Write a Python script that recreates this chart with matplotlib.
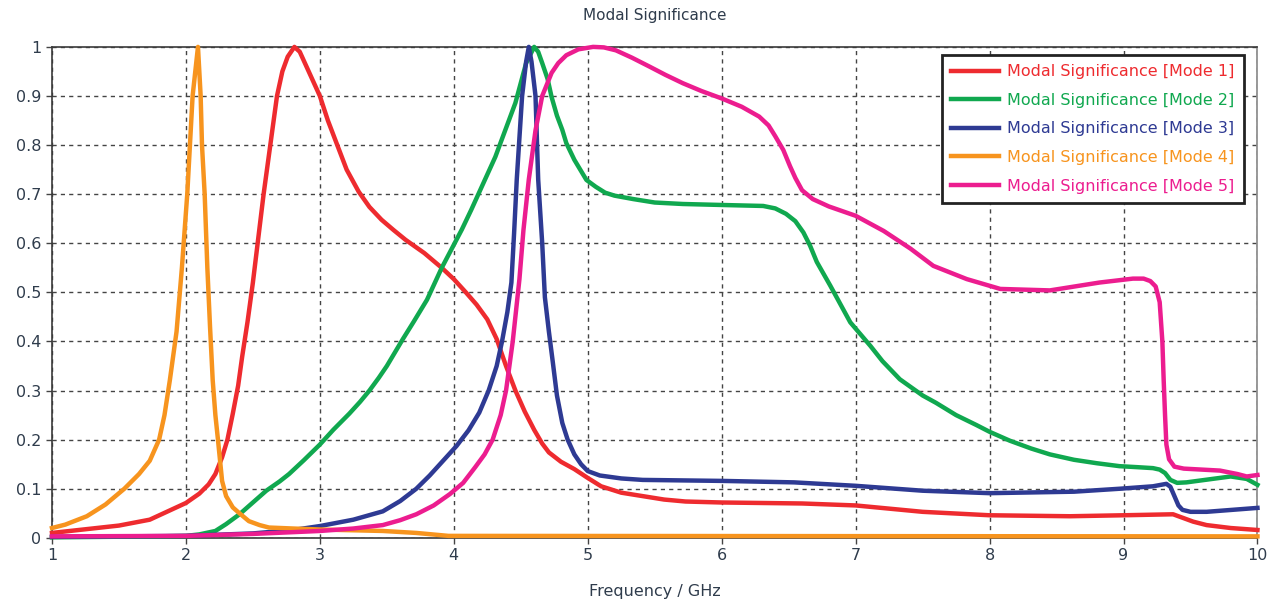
import matplotlib
matplotlib.use("Agg")
import matplotlib.pyplot as plt

# values (frequency in GHz, modal significance)
f_mode1 = [1.0, 1.5, 1.73, 2.0, 2.1, 2.17, 2.22, 2.27, 2.31, 2.35, 2.39, 2.42, 2.46, 2.5, 2.54,
           2.58, 2.63, 2.68, 2.72, 2.76, 2.81, 2.85, 2.9, 2.95, 3.0, 3.06, 3.13, 3.2, 3.29, 3.37,
           3.46, 3.55, 3.64, 3.78, 3.91, 4.0, 4.09, 4.17, 4.25, 4.32, 4.39, 4.46, 4.53, 4.6, 4.66,
           4.71, 4.8, 4.9, 5.0, 5.1, 5.25, 5.41, 5.57, 5.73, 6.0, 6.6, 7.0, 7.5, 8.0, 8.6,
           9.0, 9.37, 9.45, 9.52, 9.62, 9.8, 10.0]
ms_mode1 = [0.01, 0.025, 0.037, 0.071, 0.09, 0.109, 0.13, 0.164, 0.2, 0.253, 0.31, 0.369, 0.44, 0.52, 0.61,
            0.7, 0.8, 0.9, 0.95, 0.98, 1.0, 0.99, 0.96, 0.93, 0.9, 0.85, 0.8, 0.75, 0.705, 0.674,
            0.648, 0.627, 0.607, 0.58, 0.55, 0.527, 0.5, 0.475, 0.445, 0.405, 0.35, 0.3, 0.257, 0.22, 0.192,
            0.174, 0.155, 0.14, 0.122, 0.105, 0.092, 0.085, 0.078, 0.074, 0.072, 0.07, 0.066, 0.053, 0.046, 0.044,
            0.046, 0.048, 0.04, 0.033, 0.026, 0.02, 0.016]

f_mode2 = [1.0, 1.78, 2.0, 2.1, 2.22, 2.3, 2.4, 2.5, 2.6, 2.7, 2.77, 2.88, 3.0, 3.1, 3.22,
           3.3, 3.37, 3.44, 3.5, 3.62, 3.7, 3.8, 3.91, 4.06, 4.13, 4.31, 4.46, 4.54, 4.6, 4.63,
           4.66, 4.7, 4.73, 4.77, 4.81, 4.84, 4.9, 4.99, 5.06, 5.13, 5.2, 5.34, 5.5, 5.71, 6.0,
           6.31, 6.4, 6.48, 6.55, 6.61, 6.66, 6.71, 6.81, 6.96, 7.11, 7.2, 7.33, 7.5, 7.6, 7.75,
           7.9, 8.0, 8.15, 8.31, 8.45, 8.63, 8.8, 8.97, 9.1, 9.22, 9.27, 9.31, 9.35, 9.4, 9.47,
           9.8, 9.92, 10.0]
ms_mode2 = [0.001, 0.003, 0.004, 0.007, 0.014, 0.028, 0.048, 0.072, 0.096, 0.115, 0.13, 0.158, 0.19, 0.22, 0.253,
            0.277, 0.3, 0.326, 0.35, 0.405, 0.44, 0.485, 0.55, 0.628, 0.668, 0.776, 0.886, 0.967, 1.0, 0.99,
            0.967, 0.935, 0.898, 0.86, 0.831, 0.804, 0.77, 0.729, 0.715, 0.703, 0.697, 0.69, 0.683, 0.68, 0.678,
            0.676, 0.671, 0.66, 0.645, 0.622, 0.595, 0.562, 0.514, 0.439, 0.391, 0.36, 0.323, 0.29, 0.275, 0.25,
            0.23, 0.216, 0.198, 0.182, 0.17, 0.159, 0.152, 0.146, 0.144, 0.142, 0.139, 0.132, 0.118, 0.112, 0.113,
            0.125, 0.12, 0.108]

f_mode3 = [1.0, 2.0, 2.5, 2.8, 3.0, 3.25, 3.47, 3.6, 3.72, 3.82, 3.92, 4.02, 4.11, 4.19, 4.26,
           4.32, 4.36, 4.4, 4.43, 4.45, 4.47, 4.51, 4.54, 4.56, 4.58, 4.61, 4.63, 4.66, 4.68, 4.71,
           4.74, 4.77, 4.81, 4.85, 4.9, 4.95, 5.0, 5.09, 5.25, 5.41, 6.0, 6.54, 7.0, 7.5, 8.0,
           8.63, 8.97, 9.22, 9.32, 9.35, 9.38, 9.41, 9.44, 9.5, 9.62, 10.0]
ms_mode3 = [0.002, 0.004, 0.009, 0.016, 0.024, 0.037, 0.054, 0.075, 0.1, 0.127, 0.157, 0.187, 0.219, 0.255, 0.3,
            0.35, 0.4, 0.46, 0.52, 0.62, 0.73, 0.9, 0.97, 1.0, 0.97, 0.9, 0.73, 0.6, 0.49, 0.42,
            0.356, 0.29, 0.234, 0.2, 0.17, 0.15, 0.136, 0.127, 0.121, 0.118, 0.116, 0.113, 0.106, 0.096, 0.091,
            0.094, 0.1, 0.105, 0.11, 0.104, 0.085, 0.066, 0.057, 0.053, 0.053, 0.061]

f_mode4 = [1.0, 1.1, 1.26, 1.4, 1.54, 1.65, 1.73, 1.8, 1.84, 1.88, 1.93, 1.97, 2.01, 2.03, 2.05,
           2.09, 2.11, 2.12, 2.14, 2.16, 2.18, 2.2, 2.22, 2.24, 2.27, 2.3, 2.35, 2.4, 2.47, 2.55,
           2.62, 2.8, 3.0, 3.47, 3.72, 3.96, 10.0]
ms_mode4 = [0.02, 0.027, 0.044, 0.068, 0.1, 0.13, 0.157, 0.2, 0.25, 0.321, 0.42, 0.55, 0.7, 0.8, 0.9,
            1.0, 0.9, 0.8, 0.7, 0.55, 0.43, 0.321, 0.25, 0.198, 0.116, 0.085, 0.062, 0.05, 0.034, 0.026,
            0.021, 0.019, 0.017, 0.014, 0.01, 0.004, 0.003]

f_mode5 = [1.0, 2.0, 2.5, 3.0, 3.25, 3.47, 3.6, 3.72, 3.85, 3.97, 4.07, 4.16, 4.23, 4.29, 4.35,
           4.39, 4.44, 4.49, 4.52, 4.56, 4.61, 4.66, 4.73, 4.78, 4.84, 4.93, 5.04, 5.12, 5.21, 5.33,
           5.46, 5.58, 5.71, 5.85, 6.0, 6.15, 6.28, 6.35, 6.4, 6.46, 6.51, 6.55, 6.6, 6.68, 6.8,
           7.0, 7.21, 7.41, 7.58, 7.83, 8.08, 8.45, 8.82, 9.07, 9.15, 9.2, 9.24, 9.27, 9.29, 9.3,
           9.31, 9.32, 9.34, 9.38, 9.45, 9.72, 9.85, 9.92, 10.0]
ms_mode5 = [0.003, 0.004, 0.008, 0.014, 0.019, 0.026, 0.036, 0.048, 0.066, 0.089, 0.112, 0.144, 0.17, 0.2, 0.25,
            0.3, 0.4, 0.527, 0.627, 0.73, 0.83, 0.9, 0.947, 0.967, 0.983, 0.995, 1.0, 0.999, 0.993, 0.978,
            0.96, 0.943, 0.926, 0.91, 0.895, 0.878, 0.858, 0.84, 0.818, 0.79, 0.757, 0.733, 0.708, 0.69, 0.675,
            0.656, 0.625, 0.589, 0.554, 0.527, 0.507, 0.504, 0.52, 0.528, 0.528, 0.523, 0.512, 0.48, 0.4, 0.32,
            0.25, 0.19, 0.16, 0.145, 0.141, 0.137, 0.13, 0.125, 0.128]

labels = ["Modal Significance [Mode 1]", "Modal Significance [Mode 2]", "Modal Significance [Mode 3]",
          "Modal Significance [Mode 4]", "Modal Significance [Mode 5]"]
colors = ["#ee2b2f", "#10a84f", "#2e3a93", "#f7941e", "#ec1d8f"]

x_ticks = [1, 2, 3, 4, 5, 6, 7, 8, 9, 10]
y_ticks = [0, 0.1, 0.2, 0.3, 0.4, 0.5, 0.6, 0.7, 0.8, 0.9, 1]
y_ticklabels = ["0", "0.1", "0.2", "0.3", "0.4", "0.5", "0.6", "0.7", "0.8", "0.9", "1"]

txt = "#2f3c4c"

fig = plt.figure(figsize=(12.77, 6.05), dpi=100)
ax = fig.add_axes([0.0407, 0.111, 0.944, 0.8115])

series = [(f_mode1, ms_mode1), (f_mode2, ms_mode2), (f_mode3, ms_mode3),
          (f_mode4, ms_mode4), (f_mode5, ms_mode5)]
for (fx, ms), lab, c in zip(series, labels, colors):
    ax.plot(fx, ms, color=c, lw=3.2, label=lab, solid_joinstyle="round", clip_on=False, zorder=3)

ax.set_xlim(1, 10)
ax.set_ylim(0, 1)
ax.set_xticks(x_ticks)
ax.set_xticklabels([str(t) for t in x_ticks])
ax.set_yticks(y_ticks)
ax.set_yticklabels(y_ticklabels)
ax.grid(True, color="#444444", linestyle=(0, (3, 3)), lw=1.0)
ax.tick_params(colors="#444444", labelcolor=txt, labelsize=11.5, length=4, width=1)
for s in ax.spines.values():
    s.set_color("#3a3a3a")
    s.set_linewidth(1.2)
ax.spines["right"].set_color("#888888")

ax.set_title("Modal Significance", fontsize=11, color=txt, pad=19)
ax.set_xlabel("Frequency / GHz", fontsize=11.5, color=txt, labelpad=15)

leg = ax.legend(loc="upper right", bbox_to_anchor=(0.989, 0.984), borderaxespad=0,
                fontsize=11.5, handlelength=3.0, handletextpad=0.5, labelspacing=0.85,
                fancybox=False, framealpha=1, edgecolor="#222222", borderpad=0.6)
leg.get_frame().set_linewidth(2)
for t, c in zip(leg.get_texts(), colors):
    t.set_color(c)

fig.savefig("out.png", dpi=100)
